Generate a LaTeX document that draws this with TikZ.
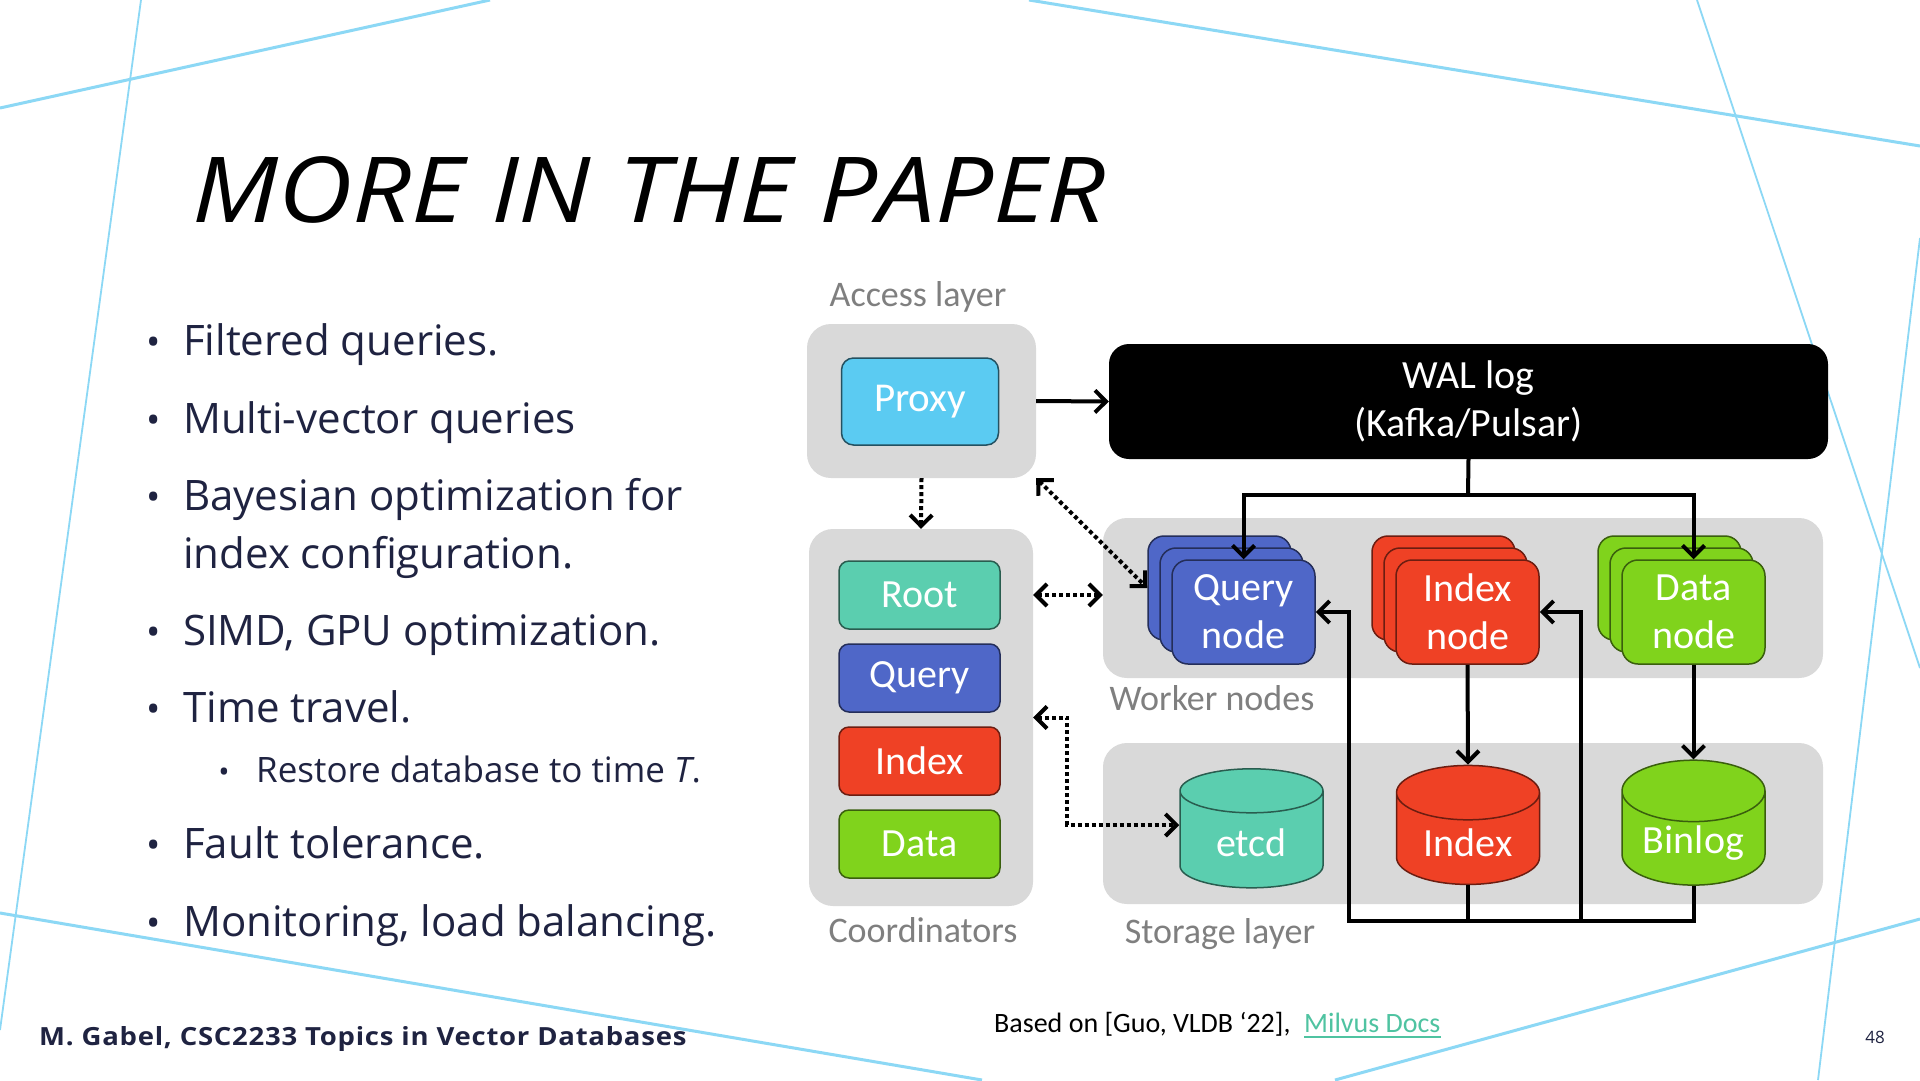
\documentclass[tikz,border=0pt]{standalone}
\usepackage{fontspec}
\setmainfont{Carlito}
\newfontfamily\bodyfont{Open Sans}
\newfontfamily\titlefont{Open Sans}[FakeStretch=1.13]
\newfontfamily\creditfont{Open Sans}[FakeStretch=1.1,LetterSpace=3]
\usetikzlibrary{arrows.meta,positioning,calc,shapes.geometric}
\definecolor{navy}{HTML}{1F2341}
\definecolor{skyline}{HTML}{8CD8F5}
\definecolor{panelgray}{HTML}{D9D9D9}
\definecolor{labelgray}{HTML}{7F7F7F}
\definecolor{proxyblue}{HTML}{5BCBF2}
\definecolor{rootgreen}{HTML}{5BCEAF}
\definecolor{queryblue}{HTML}{4F67C8}
\definecolor{indexred}{HTML}{EF4125}
\definecolor{datagreen}{HTML}{80D31C}
\definecolor{doclink}{HTML}{4FC3A1}
\tikzset{>={Straight Barb[length=11pt,width=22pt]},
  panel/.style={fill=panelgray,rounded corners=24pt,inner sep=0pt},
  layer/.style={anchor=base,inner sep=0pt,text=labelgray,font=\fontsize{36}{40}\selectfont},
  coordbox/.style={rounded corners=10pt,minimum width=161pt,minimum height=68pt,
    line width=1.5pt,text=white,font=\fontsize{40}{48}\selectfont},
  card/.style={rounded corners=16pt,minimum width=143pt,minimum height=104pt,line width=1.5pt,
    text=white,align=center,font=\fontsize{40}{48}\selectfont},
  store/.style={cylinder,shape border rotate=90,aspect=0.57,minimum width=143pt,minimum height=119pt,
    line width=1.5pt,text=white,font=\fontsize{40}{48}\selectfont},
  arrow/.style={->,line width=4pt},
  link/.style={line width=4pt,dash pattern=on 4pt off 3pt},
  item/.style={anchor=base west,inner sep=0pt,text=navy,font=\bodyfont\fontsize{42}{58}\selectfont},
  dot/.style={anchor=base,inner sep=0pt,text=navy,font=\bodyfont\fontsize{38}{38}\selectfont}}
\begin{document}
\begin{tikzpicture}[x=1pt,y=-1pt]
\useasboundingbox (0,0) rectangle (1920,1080);
\fill[white] (0,0) rectangle (1920,1080);
\draw[skyline,line width=3pt] (0,108) -- (490,0) (1029,0) -- (1920,146)
  (1335,1080) -- (1920,919) (0,913) -- (982,1080);
\draw[skyline,line width=1.8pt] (141,0) -- (0,1030) (1697,0) -- (1920,668) (1920,238) -- (1818,1080);
\node[anchor=base west,inner sep=0pt,font=\titlefont\itshape\fontsize{91}{100}\selectfont] (title) at (192,222) {MORE IN THE PAPER};
\foreach \yy/\t in {355/Filtered queries., 433/Multi-vector queries, 510/Bayesian optimization for,
  645/{SIMD, GPU optimization.}, 722/Time travel., 858/Fault tolerance., 936/{Monitoring, load balancing.}}{
  \node[item] at (183,\yy) {\t};
  \node[dot] at (154,\yy) {•};}
\node[item] (cont) at (183,568) {index configuration.};
\node[item,font=\bodyfont\fontsize{35}{42}\selectfont] (sub) at (256,782) {Restore database to time \textit{T}.};
\node[dot,font=\bodyfont\fontsize{30}{30}\selectfont] at (224,782) {•};
\node[panel,minimum width=229pt,minimum height=154pt] (access) at (921.5,401) {};
\node[panel,minimum width=224pt,minimum height=377pt] (coord) at (921,717.5) {};
\node[panel,minimum width=720pt,minimum height=160pt] (worker) at (1463,598) {};
\node[panel,minimum width=720pt,minimum height=161pt] (storage) at (1463,823.5) {};
\node[layer] at (918,306) {Access layer};
\node[layer] at (923,942) {Coordinators};
\node[layer] at (1212,710) {Worker nodes};
\node[layer] at (1220,943) {Storage layer};
\node[coordbox,fill=proxyblue,draw=proxyblue!40!black,minimum width=157pt,minimum height=87pt,rounded corners=12pt,
  font=\fontsize{41}{48}\selectfont] (proxy) at (920,401.5) {Proxy};
\node[fill=black,rounded corners=20pt,minimum width=719pt,minimum height=115pt,text=white,align=center,
  font=\fontsize{40}{48}\selectfont] (wal) at (1468.5,401.5) {WAL log\\(Kafka/Pulsar)};
\foreach \n/\yy/\c/\t in {root/595/rootgreen/Root, cquery/678/queryblue/Query, cindex/761/indexred/Index, cdata/844/datagreen/Data}
  \node[coordbox,fill=\c,draw=\c!45!black] (\n) at (919.5,\yy) {\t};
\foreach \n/\x/\c/\t in {qnode/1243.5/queryblue/{Query\\node}, inode/1467.5/indexred/{Index\\node}, dnode/1693.5/datagreen/{Data\\node}}{
  \node[card,fill=\c,draw=\c!45!black] (\n2) at (\x-24,588) {};
  \node[card,fill=\c,draw=\c!45!black] (\n1) at (\x-12,600) {};
  \node[card,fill=\c,draw=\c!45!black] (\n) at (\x,612) {\t};}
\node[store,fill=rootgreen,draw=rootgreen!45!black] (etcd) at (1251.5,843) {etcd};
\node[store,fill=indexred,draw=indexred!45!black] (istore) at (1468,843) {Index};
\node[store,fill=datagreen,draw=datagreen!45!black] (binlog) at (1693.5,843) {Binlog};
\coordinate (bus) at (1468,495);
\coordinate (ret) at (1349,921);
\coordinate (tap) at (1581,921);
\draw[arrow] (access.east) -- (wal.west);
\draw[line width=4pt] (wal.south) -- (bus);
\draw[arrow] (bus) -| (qnode.north);
\draw[arrow] (bus) -| (dnode.north);
\draw[arrow] (inode.south) -- (istore.north);
\draw[arrow] (dnode.south) -- (binlog.north);
\draw[arrow] (binlog.south) |- (ret) |- (qnode.east);
\draw[line width=4pt] (istore.south) -- (istore.south |- ret);
\draw[arrow] (tap) |- (inode.east);
\draw[link,->] (access.south) -- (coord.north);
\draw[link,<->] (access.south east) -- (qnode2.west);
\draw[link,<->] (coord.east |- root) -- (worker.west |- root);
\draw[link,<->] (coord.east) -- ++(34,0) |- ([yshift=18pt]etcd.west);
\node[anchor=base west,inner sep=0pt,text=navy,font=\creditfont\bfseries\fontsize{25}{28}\selectfont] (credit) at (39,1045) {M. Gabel, CSC2233 Topics in Vector Databases};
\node[anchor=base west,inner sep=0pt,font=\fontsize{28}{32}\selectfont] (source) at (994,1032) {Based on [Guo, VLDB ‘22],};
\node[anchor=base west,inner sep=0pt,text=doclink,font=\fontsize{28}{32}\selectfont] (docs) at (1304,1032) {Milvus Docs};
\draw[doclink,line width=2.5pt] ($(docs.base west)+(0,5)$) -- ($(docs.base east)+(0,5)$);
\node[anchor=base,inner sep=0pt,text=navy,font=\bodyfont\fontsize{17}{20}\selectfont] (page) at (1875,1043) {48};
\end{tikzpicture}
\end{document}
